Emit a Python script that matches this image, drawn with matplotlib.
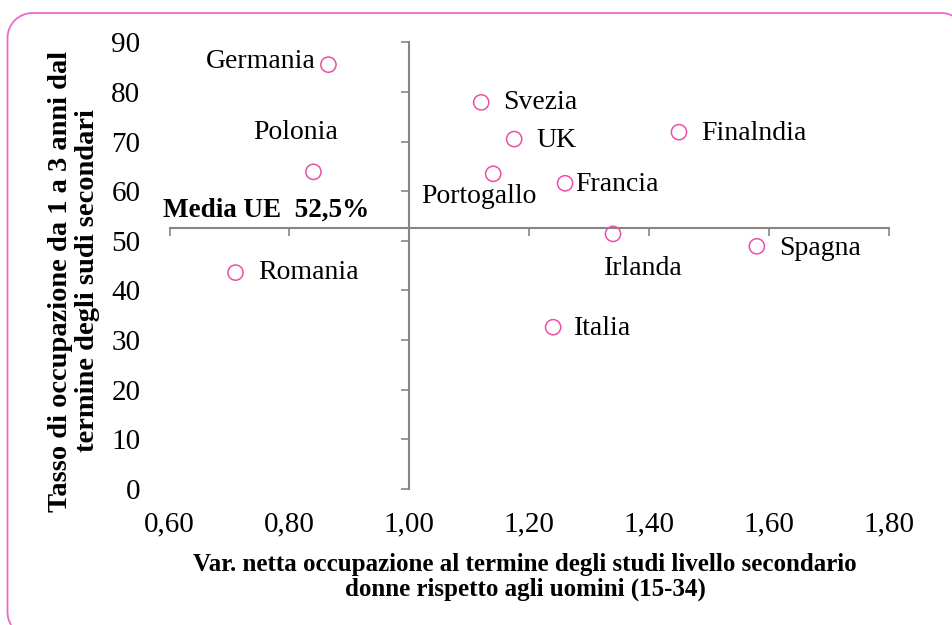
# -*- coding: utf-8 -*-
import numpy as np
import matplotlib
matplotlib.use('Agg')
import matplotlib.pyplot as plt
from matplotlib.path import Path
from matplotlib.patches import PathPatch
from matplotlib.transforms import Affine2D

# Dati: variazione netta occupazione (donne/uomini) e tasso di occupazione
paesi = ['Germania', 'Polonia', 'Romania', 'Svezia', 'UK', 'Portogallo',
         'Francia', 'Finalndia', 'Irlanda', 'Spagna', 'Italia']
var_netta = [0.865, 0.84, 0.71, 1.12, 1.175, 1.14, 1.26, 1.45, 1.34, 1.58, 1.24]
tasso_occ = [85.5, 63.9, 43.6, 77.9, 70.5, 63.5, 61.6, 71.9, 51.4, 48.9, 32.6]

media_ue = 52.5
asse_x_incrocio = 1.0

x_ticks = [0.6, 0.8, 1.0, 1.2, 1.4, 1.6, 1.8]
x_tick_labels = ['0,60', '0,80', '1,00', '1,20', '1,40', '1,60', '1,80']
y_ticks = [0, 10, 20, 30, 40, 50, 60, 70, 80, 90]
y_tick_labels = [str(v) for v in y_ticks]

# posizione etichette (offset in pixel, allineamento orizzontale)
offset_etichette = {
    'Germania': (-13, 3, 'right'),
    'Polonia': (-18, 39, 'center'),
    'Romania': (23, 0, 'left'),
    'Svezia': (22, 0, 'left'),
    'UK': (22, -1, 'left'),
    'Portogallo': (-14, -23, 'center'),
    'Francia': (10, -1, 'left'),
    'Finalndia': (22, -1, 'left'),
    'Irlanda': (30, -35, 'center'),
    'Spagna': (22, -2, 'left'),
    'Italia': (21, -1, 'left'),
}

plt.rcParams['font.family'] = 'Liberation Serif'

grigio = '#868686'
rosa = '#EC4FA6'

fig = plt.figure(figsize=(9.53, 6.25), dpi=100)
rect = [0.178, 0.2176, 0.7545, 0.7147]
ax = fig.add_axes(rect)

ax.scatter(var_netta, tasso_occ, s=120, facecolors='none', edgecolors=rosa,
           linewidths=1.1, zorder=3)

for nome, x, y in zip(paesi, var_netta, tasso_occ):
    dx, dy, ha = offset_etichette[nome]
    ax.annotate(nome, (x, y), xytext=(dx, dy), textcoords='offset pixels',
                ha=ha, va='center', fontsize=20)

ax.annotate('Media UE  52,5%', (x_ticks[0], media_ue), xytext=(-7, 18),
            textcoords='offset pixels', ha='left', va='center',
            fontsize=19.5, fontweight='bold')

ax.set_xlim(x_ticks[0], x_ticks[-1])
ax.set_ylim(y_ticks[0], y_ticks[-1])
ax.set_xticks(x_ticks)
ax.set_xticklabels(x_tick_labels)
ax.set_yticks(y_ticks)
ax.set_yticklabels(y_tick_labels)

# assi che si incrociano alla media UE e a 1,00
ax.spines['left'].set_position(('data', asse_x_incrocio))
ax.spines['bottom'].set_position(('data', media_ue))
for lato in ['top', 'right']:
    ax.spines[lato].set_visible(False)
for lato in ['left', 'bottom']:
    ax.spines[lato].set_color(grigio)
    ax.spines[lato].set_linewidth(1.5)
ax.tick_params(direction='out', length=6, width=1.2, color=grigio,
               labelleft=False, labelbottom=False)
ax.patch.set_visible(False)

# etichette dei tick ai bordi del grafico
ax2 = fig.add_axes(rect, sharex=ax, sharey=ax, frameon=False)
ax2.tick_params(length=0, labelsize=21)
ax2.tick_params(axis='y', pad=21)
ax2.tick_params(axis='x', pad=16)
ax2.set_zorder(-1)

fig.text(74 / 953, 1 - 281 / 625,
         'Tasso di occupazione da 1 a 3 anni dal\ntermine degli sudi secondari',
         rotation=90, ha='center', va='center', multialignment='center',
         fontsize=20.5, fontweight='bold', linespacing=1.12)
fig.text(525 / 953, 1 - 577 / 625,
         'Var. netta occupazione al termine degli studi livello secondario\n'
         'donne rispetto agli uomini (15-34)',
         ha='center', va='center', multialignment='center',
         fontsize=18, fontweight='bold', linespacing=1.1)

# cornice arrotondata: solo i tratti che restano dentro la figura (pixel)
W, H = 953, 625
r = 25
sx, top, dx_curva, by = 7.5, 612, 941, 13


def arco(cx, cy, t1, t2):
    return Affine2D().scale(r).translate(cx, cy).transform_path(Path.arc(t1, t2))


t_dx = np.degrees(np.arccos((W - dx_curva) / r))
t_sx = 180 + np.degrees(np.arcsin(by / r))
pezzi = [
    arco(sx + r, by, 180, t_sx),
    Path([(sx, by), (sx, top - r)]),
    arco(sx + r, top - r, 90, 180),
    Path([(sx + r, top), (dx_curva, top)]),
    arco(dx_curva, top - r, t_dx, 90),
]
cornice = PathPatch(Path.make_compound_path(*pezzi), transform=None,
                    fill=False, edgecolor='#EA6ACD', linewidth=1.3)
fig.add_artist(cornice)

fig.savefig('out.png', dpi=100)
